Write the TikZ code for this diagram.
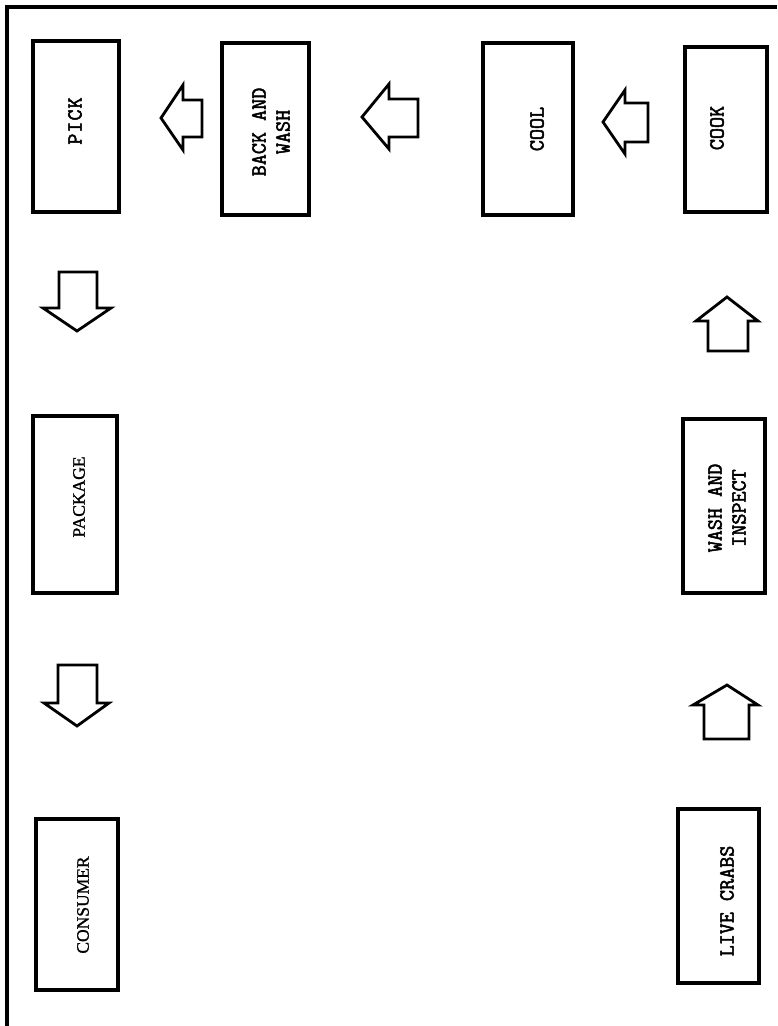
\documentclass[tikz,border=0pt]{standalone}
\usepackage{fontspec}
\setmainfont{Liberation Serif}
\newfontfamily\tw{Latin Modern Mono}[FakeBold=2.4]
\newfontfamily\serb{Liberation Serif}[FakeBold=1.2]
\begin{document}
\begin{tikzpicture}[x=1pt,y=-1pt,
  box/.style={draw, line width=3.2pt, inner sep=0pt, minimum width=#1},
  boxtext/.style={rotate=90, align=center, inner sep=0pt, font=\tw\fontsize{21.5}{24}\selectfont},
  sertext/.style={rotate=90, align=center, inner sep=0pt, font=\serb\fontsize{17.5}{20}\selectfont},
  barrow/.style={draw, line width=2.8pt, line join=miter, fill=white}]
\useasboundingbox (0,0) rectangle (777,1026);
\fill[white] (0,0) rectangle (777,1026);
% frame
\draw[line width=3.2pt] (7,1026) -- (7,7) -- (777,7);
% boxes
\node[box=86pt, minimum height=171pt] (pick) at (76,126.5) {};
\node[box=87pt, minimum height=172pt] (back) at (265.5,129) {};
\node[box=90pt, minimum height=172pt] (cool) at (528,129) {};
\node[box=82pt, minimum height=165pt] (cook) at (726,129.5) {};
\node[box=84pt, minimum height=177pt] (package) at (75,504.5) {};
\node[box=82pt, minimum height=174pt] (inspect) at (724,506) {};
\node[box=82pt, minimum height=171pt] (consumer) at (77,904.5) {};
\node[box=81pt, minimum height=174pt] (live) at (718.5,896) {};
% texts
\node[boxtext] (tpick) at (75,121) {P\kern1pt I\kern1pt C\kern1pt K};
\node[boxtext] (tback) at (271,132) {BACK AND\\WASH};
\node[boxtext] (tcool) at (537,129) {COOL};
\node[boxtext] (tcook) at (717,128) {COOK};
\node[sertext] (tpackage) at (79,497) {PACKAGE};
\node[boxtext] (tinspect) at (727,508) {WASH AND\\INSPECT};
\node[sertext] (tconsumer) at (83,905) {CONSUMER};
\node[boxtext] (tlive) at (727,901) {LIVE CRABS};
% block arrows
\draw[barrow] (161,118) -- (183,85) -- (183,100) -- (202,100) -- (202,137) -- (183,137) -- (183,150) -- cycle;
\draw[barrow] (362,117) -- (389,84) -- (389,99) -- (418,99) -- (418,137) -- (389,137) -- (389,149) -- cycle;
\draw[barrow] (603,122) -- (625,90) -- (625,103) -- (648,103) -- (648,142) -- (625,142) -- (625,154) -- cycle;
\draw[barrow] (59,272) -- (97,272) -- (97,308) -- (111,308) -- (77,331) -- (43,308) -- (59,308) -- cycle;
\draw[barrow] (727,297) -- (758,321) -- (748,321) -- (748,351) -- (708,351) -- (708,321) -- (696,321) -- cycle;
\draw[barrow] (58,665) -- (97,665) -- (97,703) -- (109,703) -- (77,726) -- (44,703) -- (58,703) -- cycle;
\draw[barrow] (727,685) -- (758,705) -- (749,705) -- (749,739) -- (704,739) -- (704,705) -- (693,705) -- cycle;
\end{tikzpicture}
\end{document}
